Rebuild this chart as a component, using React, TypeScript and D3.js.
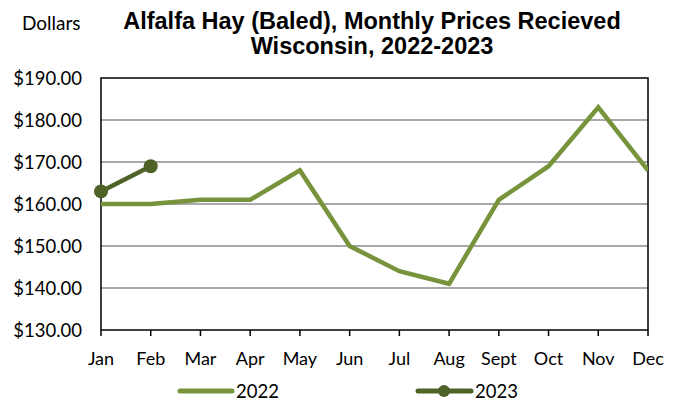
import React from "react";
import * as d3 from "d3";

const months = ["Jan", "Feb", "Mar", "Apr", "May", "Jun", "Jul", "Aug", "Sept", "Oct", "Nov", "Dec"];
const values2022 = [160, 160, 161, 161, 168, 150, 144, 141, 161, 169, 183, 168];
const values2023 = [163, 169];
const yTicks = [130, 140, 150, 160, 170, 180, 190];

const W = 678, H = 400;
const left = 101, right = 648, top = 78, bottom = 330;

export default function App() {
  const x = d3.scalePoint<string>().domain(months).range([left, right]);
  const y = d3.scaleLinear().domain([130, 190]).range([bottom, top]);
  const line = d3.line<number>().x((_, i) => x(months[i])!).y((d) => y(d));
  const labelFont = "Lato, 'Open Sans', sans-serif";
  const titleFont = "'Liberation Sans', Arial, sans-serif";
  return (
    <svg width={W} height={H} style={{ position: "absolute", left: 0, top: 0 }}>
      <rect width={W} height={H} fill="#fff" />
      <defs>
        <clipPath id="plot">
          <rect x={left} y={top - 10} width={right - left} height={bottom - top + 10} />
        </clipPath>
      </defs>
      <text x={22} y={30} fontFamily={labelFont} fontSize={19} fill="#000">Dollars</text>
      <text x={372} y={29} textAnchor="middle" fontFamily={titleFont} fontWeight="bold" fontSize={23.5} fill="#000">
        Alfalfa Hay (Baled), Monthly Prices Recieved
      </text>
      <text x={372} y={54} textAnchor="middle" fontFamily={titleFont} fontWeight="bold" fontSize={23.5} fill="#000">
        Wisconsin, 2022-2023
      </text>
      {yTicks.map((t) => (
        <g key={t}>
          {t > 130 && t < 190 && <line x1={left} x2={right} y1={y(t)} y2={y(t)} stroke="#8c8c8c" strokeWidth={1.5} />}
          <text x={82} y={y(t) + 6.5} textAnchor="end" fontFamily={labelFont} fontSize={18.5} fill="#000">
            {"$" + t.toFixed(2)}
          </text>
        </g>
      ))}
      <rect x={left} y={top} width={right - left} height={bottom - top} fill="none" stroke="#000" strokeWidth={1.5} />
      {months.map((m) => (
        <g key={m}>
          <line x1={x(m)} x2={x(m)} y1={bottom} y2={bottom + 6} stroke="#000" strokeWidth={1.5} />
          <text x={x(m)} y={365} textAnchor="middle" fontFamily={labelFont} fontSize={18} fill="#000">{m}</text>
        </g>
      ))}
      <g clipPath="url(#plot)">
        <path d={line(values2022)!} fill="none" stroke="#77933C" strokeWidth={4.5} strokeLinejoin="miter" />
      </g>
      <path d={line(values2023)!} fill="none" stroke="#4F6228" strokeWidth={4.5} />
      {values2023.map((v, i) => (
        <circle key={i} cx={x(months[i])} cy={y(v)} r={7} fill="#4F6228" />
      ))}
      <line x1={180} x2={232} y1={391} y2={391} stroke="#77933C" strokeWidth={5} strokeLinecap="round" />
      <text x={236} y={397.5} fontFamily={labelFont} fontSize={18.5} fill="#000">2022</text>
      <line x1={418} x2={471} y1={391} y2={391} stroke="#4F6228" strokeWidth={5} strokeLinecap="round" />
      <circle cx={444} cy={391} r={6} fill="#4F6228" />
      <text x={475} y={397.5} fontFamily={labelFont} fontSize={18.5} fill="#000">2023</text>
    </svg>
  );
}
